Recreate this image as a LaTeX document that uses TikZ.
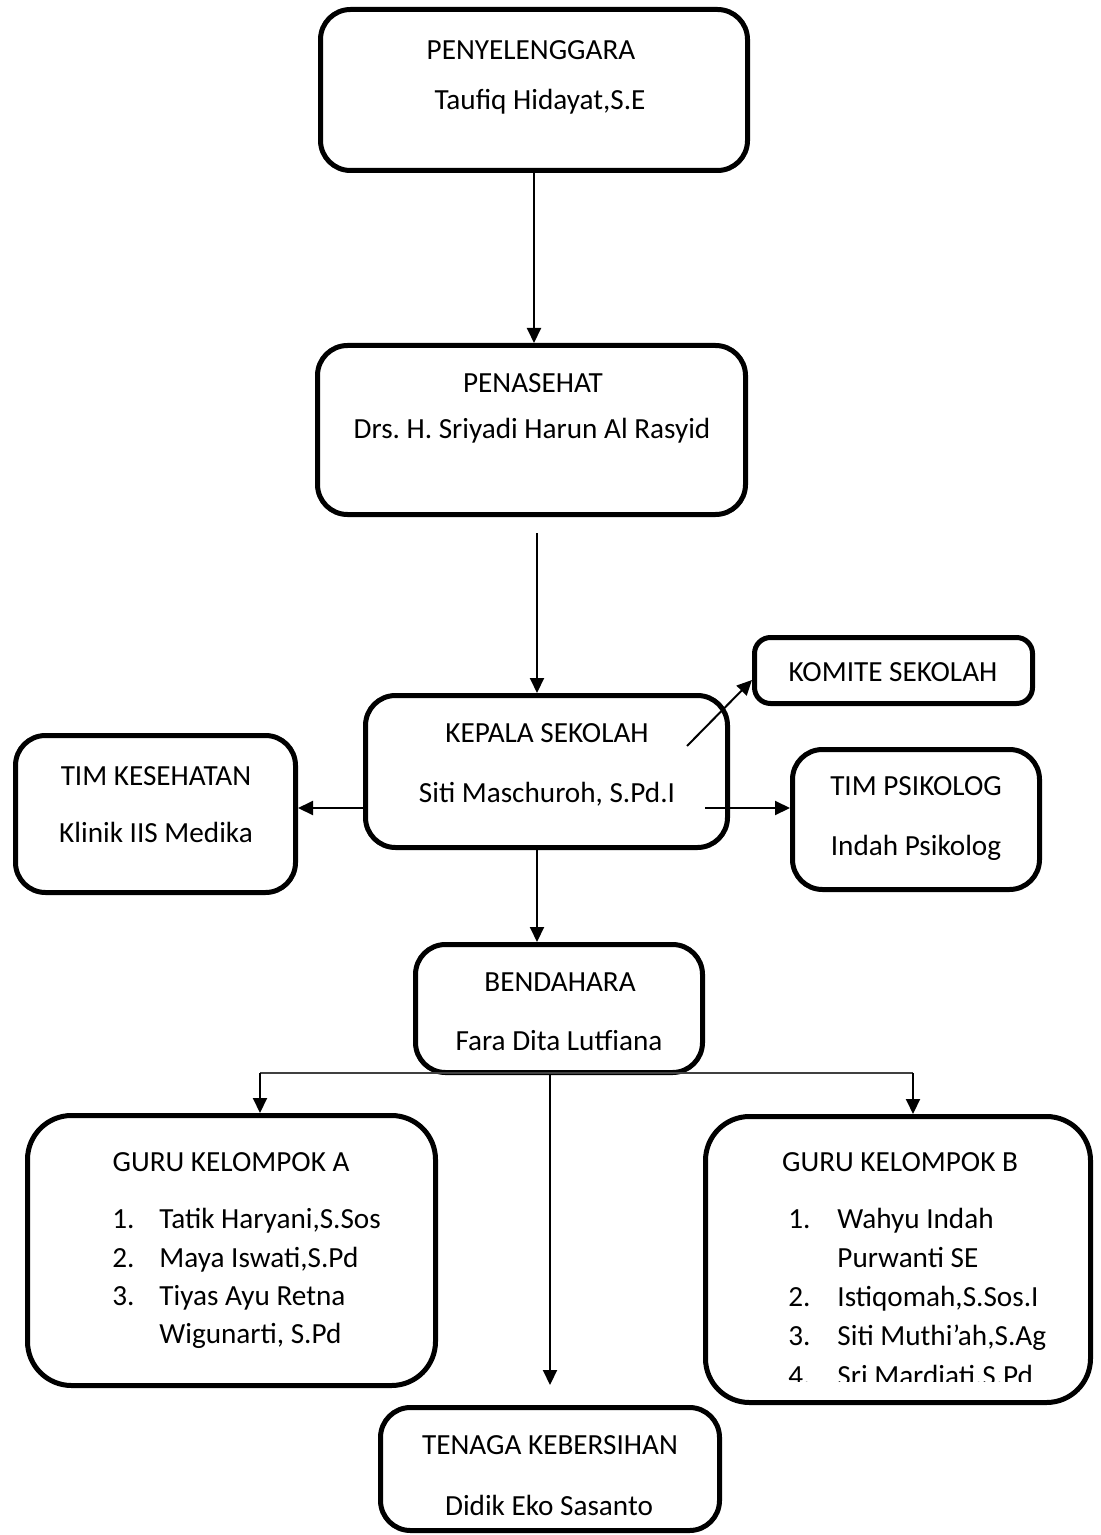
\documentclass[tikz,border=0pt]{standalone}
\usepackage{fontspec}
\setmainfont{Carlito}
\usetikzlibrary{arrows.meta,calc,fit}
\frenchspacing
\begin{document}
\begin{tikzpicture}[x=0.5pt,y=-0.5pt,
  orgbox/.style={draw,line width=2.5pt,rounded corners=15pt,inner sep=0pt,rectangle},
  bigbox/.style={orgbox,rounded corners=22pt},
  smallbox/.style={orgbox,rounded corners=8pt},
  lbl/.style={anchor=base,inner sep=0pt,font=\fontsize{14.6pt}{17.5pt}\selectfont},
  item/.style={lbl,anchor=base west},
  conn/.style={line width=1pt,-{Triangle[length=7.5pt,width=7pt]}},
  rail/.style={line width=0.8pt,black!75}]
\useasboundingbox (0,0) rectangle (1101,1535);

% boxes
\node[orgbox,fit={(320.5,9.5) (747.5,170.5)}] (pny) {};
\node[orgbox,fit={(317.5,345.5) (745.5,514.5)}] (pns) {};
\node[orgbox,fit={(365.5,695.5) (727.5,847.5)}] (kep) {};
\node[smallbox,fit={(754.5,637.5) (1032.5,703.5)}] (kom) {};
\node[orgbox,fit={(792.5,749.5) (1039.5,889.5)}] (psi) {};
\node[orgbox,fit={(15.5,735.5) (295.5,892.5)}] (kes) {};
\node[orgbox,fit={(415.5,944.5) (702.5,1072.5)}] (ben) {};
\node[bigbox,fit={(27.5,1115.5) (435.5,1385.5)}] (gA) {};
\node[bigbox,fit={(705.5,1116.5) (1090.5,1402.5)}] (gB) {};
\node[orgbox,fit={(380.5,1407.5) (719.5,1530.5)}] (ten) {};

% texts
\node[lbl] (tPny) at (531,60) {PENYELENGGARA};
\node[lbl] (nPny) at (540,110) {Taufiq Hidayat,S.E};
\node[lbl] (tPns) at (533,393) {PENASEHAT};
\node[lbl] (nPns) at (532,438) {Drs. H. Sriyadi Harun Al Rasyid};
\node[lbl] (tKep) at (547,742) {KEPALA SEKOLAH};
\node[lbl] (nKep) at (547,802) {Siti Maschuroh, S.Pd.I};
\node[lbl] (tKom) at (893,681) {KOMITE SEKOLAH};
\node[lbl] (tPsi) at (916,795) {TIM PSIKOLOG};
\node[lbl] (nPsi) at (916,855) {Indah Psikolog};
\node[lbl] (tKes) at (156,785) {TIM KESEHATAN};
\node[lbl] (nKes) at (156,842) {Klinik IIS Medika};
\node[lbl] (tBen) at (560,991) {BENDAHARA};
\node[lbl] (nBen) at (559,1050) {Fara Dita Lutfiana};
\node[lbl] (tTen) at (550,1454) {TENAGA KEBERSIHAN};
\node[lbl] (nTen) at (549,1515) {Didik Eko Sasanto};

% teachers, group A
\node[lbl] (tGA) at (231,1171) {GURU KELOMPOK A};
\node[item] (a1n) at (112,1228) {1.};
\node[item] (a1) at (159,1228) {Tatik Haryani,S.Sos};
\node[item] (a2n) at (112,1267) {2.};
\node[item] (a2) at (159,1267) {Maya Iswati,S.Pd};
\node[item] (a3n) at (112,1305) {3.};
\node[item] (a3) at (159,1305) {Tiyas Ayu Retna};
\node[item] (a3b) at (159,1343) {Wigunarti, S.Pd};

% teachers, group B
\node[lbl] (tGB) at (900,1171) {GURU KELOMPOK B};
\node[item] (b1n) at (788,1228) {1.};
\node[item] (b1) at (837,1228) {Wahyu Indah};
\node[item] (b1b) at (837,1267) {Purwanti SE};
\node[item] (b2n) at (788,1306) {2.};
\node[item] (b2) at (837,1306) {Istiqomah,S.Sos.I};
\node[item] (b3n) at (788,1345) {3.};
\node[item] (b3) at (837,1345) {Siti Muthi’ah,S.Ag};
\begin{scope}
  \clip (700,1300) rectangle (1100,1381);
  \node[item] (b4n) at (788,1385) {4.};
  \node[item] (b4) at (837,1385) {Sri Mardiati,S.Pd};
\end{scope}

% connectors
\draw[conn] (pny.south) -- (pny.south |- pns.north);
\coordinate (c2) at (537,533);
\draw[conn] (c2) -- (c2 |- kep.north);
\coordinate (c3) at (687,746);
\draw[conn] (c3) -- ($(kom.west)+(0,9.5)$);
\coordinate (c4) at (705,808);
\draw[conn] (c4) -- (c4 -| psi.west);
\coordinate (c5) at (363,808);
\draw[conn] (kep.west |- c5) -- (kes.east |- c5);
\coordinate (c6) at (537,850);
\draw[conn] (kep.south -| c6) -- (ben.north -| c6);
\coordinate (bL) at (260,1073);
\coordinate (bR) at (913,1073);
\draw[rail] (bL) -- (bR);
\draw[conn] (bL) -- (bL |- gA.north);
\draw[conn] (bR) -- (bR |- gB.north);
\coordinate (bC) at (550,1385);
\draw[conn] (ben.south -| bC) -- (bC);
\end{tikzpicture}
\end{document}
